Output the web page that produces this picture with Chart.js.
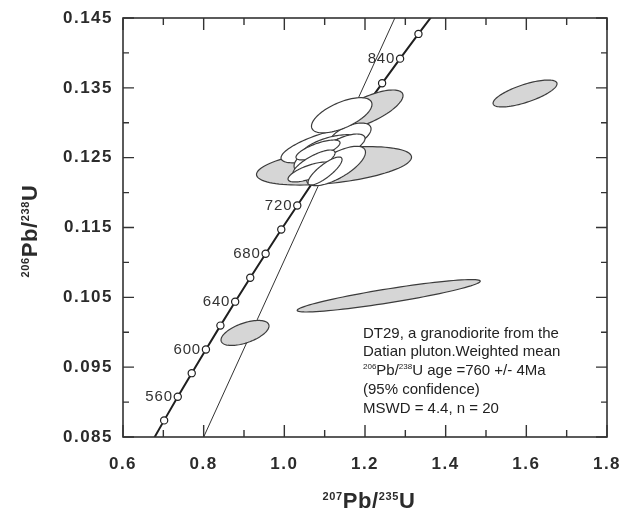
<!DOCTYPE html>
<html>
<head>
<meta charset="utf-8">
<script src="https://cdn.jsdelivr.net/npm/chart.js@4.4.1/dist/chart.umd.min.js"></script>
<style>
  html, body { margin: 0; padding: 0; background: #fff; }
</style>
</head>
<body>
<canvas id="chart" width="628" height="510"></canvas>
<script>
// Concordia curve (207Pb/235U, 206Pb/238U) at 20 Ma steps.
const concAge = [520, 540, 560, 580, 600, 620, 640, 660, 680, 700, 720, 740, 760, 780, 800, 820, 840, 860, 880];
const concX = [0.6688, 0.7020, 0.7358, 0.7704, 0.8056, 0.8415, 0.8781, 0.9155, 0.9536, 0.9924,
  1.0321, 1.0725, 1.1137, 1.1558, 1.1987, 1.2424, 1.2870, 1.3325, 1.3789];
const concY = [0.08401, 0.08738, 0.09076, 0.09414, 0.09754, 0.10095, 0.10438, 0.10781, 0.11125, 0.11471,
  0.11816, 0.12164, 0.12512, 0.12862, 0.13213, 0.13565, 0.13918, 0.14272, 0.14627];
const labelAges = [560, 600, 640, 680, 720, 840];

// Thin reference line.
const refX = [0.80, 1.274];
const refY = [0.085, 0.145];

// Error ellipses: centre, half extents, correlation, grey or white. Drawn in this order.
const ellCx  = [0.9025, 1.2588, 1.5968, 1.1232, 1.2050, 1.1009, 1.1629, 1.1157, 1.1207, 1.0910, 1.1505, 1.0835, 1.1282, 1.0736, 1.0637, 1.1009, 1.1423];
const ellCy  = [0.0999, 0.10522, 0.13419, 0.12383, 0.13183, 0.12681, 0.1281, 0.12624, 0.12610, 0.12495, 0.12681, 0.1261, 0.12381, 0.12424, 0.12295, 0.12309, 0.13107];
const ellEx  = [0.0595, 0.2269, 0.0793, 0.1922, 0.0893, 0.1091, 0.0521, 0.0769, 0.0446, 0.0669, 0.0496, 0.0546, 0.0730, 0.0521, 0.0546, 0.0422, 0.0750];
const ellEy  = [0.00179, 0.00232, 0.00193, 0.00275, 0.00286, 0.00255, 0.00186, 0.00205, 0.00172, 0.00220, 0.00158, 0.00143, 0.00282, 0.00186, 0.00143, 0.00200, 0.00252];
const ellRho = [0.56, 0.90, 0.72, 0.45, 0.72, 0.72, 0.55, 0.52, 0.65, 0.52, 0.60, 0.72, 0.70, 0.78, 0.70, 0.82, 0.62];
const ellGrey = [true, true, true, true, true, false, false, false, false, false, false, false, false, false, false, false, false];

const xTicks = [0.6, 0.8, 1.0, 1.2, 1.4, 1.6, 1.8];
const xMinor = [0.7, 0.9, 1.1, 1.3, 1.5, 1.7];
const yTicks = [0.085, 0.095, 0.105, 0.115, 0.125, 0.135, 0.145];
const yMinor = [0.09, 0.10, 0.11, 0.12, 0.13, 0.14];

const FONT = '"Liberation Sans", Arial, sans-serif';
const INK = '#2b2b2b';

// Draw a run of text pieces [{t, size, bold, dy}] starting at x (baseline y).
function drawRuns(ctx, runs, x, y, align) {
  let total = 0;
  for (const r of runs) {
    ctx.font = (r.bold ? 'bold ' : '') + r.size + 'px ' + FONT;
    r.w = ctx.measureText(r.t).width;
    total += r.w;
  }
  let cx = align === 'center' ? x - total / 2 : x;
  ctx.textAlign = 'left';
  ctx.textBaseline = 'alphabetic';
  for (const r of runs) {
    ctx.font = (r.bold ? 'bold ' : '') + r.size + 'px ' + FONT;
    ctx.fillText(r.t, cx, y + (r.dy || 0));
    cx += r.w;
  }
}

const ellipsePlugin = {
  id: 'ellipses',
  afterDatasetsDraw(chart) {
    const { ctx, chartArea, scales: { x: xs, y: ys } } = chart;
    ctx.save();
    ctx.beginPath();
    ctx.rect(chartArea.left, chartArea.top, chartArea.right - chartArea.left, chartArea.bottom - chartArea.top);
    ctx.clip();
    for (let i = 0; i < ellCx.length; i++) {
      const s = Math.sqrt(1 - ellRho[i] * ellRho[i]);
      ctx.beginPath();
      for (let k = 0; k <= 96; k++) {
        const t = (k / 96) * Math.PI * 2;
        const vx = ellCx[i] + ellEx[i] * Math.cos(t);
        const vy = ellCy[i] + ellEy[i] * (ellRho[i] * Math.cos(t) + s * Math.sin(t));
        const px = xs.getPixelForValue(vx);
        const py = ys.getPixelForValue(vy);
        if (k === 0) ctx.moveTo(px, py); else ctx.lineTo(px, py);
      }
      ctx.closePath();
      ctx.fillStyle = ellGrey[i] ? '#d6d6d6' : '#ffffff';
      ctx.fill();
      ctx.strokeStyle = '#3c3c3c';
      ctx.lineWidth = 1.2;
      ctx.stroke();
    }
    ctx.restore();
  },
};

const framePlugin = {
  id: 'frame',
  beforeDraw(chart) {
    chart.ctx.letterSpacing = '1.5px';
  },
  afterDraw(chart) {
    const { ctx, chartArea: a, scales: { x: xs, y: ys } } = chart;
    ctx.save();
    ctx.letterSpacing = '0px';

    // Frame and inward ticks.
    ctx.strokeStyle = '#333';
    ctx.lineWidth = 1.6;
    ctx.strokeRect(a.left, a.top, a.right - a.left, a.bottom - a.top);
    ctx.lineWidth = 1.4;
    ctx.beginPath();
    const tickX = (v, len) => {
      const p = xs.getPixelForValue(v);
      ctx.moveTo(p, a.bottom); ctx.lineTo(p, a.bottom - len);
      ctx.moveTo(p, a.top); ctx.lineTo(p, a.top + len);
    };
    const tickY = (v, len) => {
      const p = ys.getPixelForValue(v);
      ctx.moveTo(a.left, p); ctx.lineTo(a.left + len, p);
      ctx.moveTo(a.right, p); ctx.lineTo(a.right - len, p);
    };
    xTicks.forEach((v) => tickX(v, 12));
    xMinor.forEach((v) => tickX(v, 7));
    yTicks.forEach((v) => tickY(v, 11));
    yMinor.forEach((v) => tickY(v, 6));
    ctx.stroke();

    // Age labels on the concordia.
    ctx.fillStyle = '#333';
    ctx.font = '15px ' + FONT;
    ctx.letterSpacing = '0.8px';
    ctx.textAlign = 'right';
    ctx.textBaseline = 'middle';
    for (const age of labelAges) {
      const i = concAge.indexOf(age);
      const px = xs.getPixelForValue(concX[i]);
      const py = ys.getPixelForValue(concY[i]);
      ctx.fillText(String(age), px - 5, py);
    }

    // Axis titles.
    ctx.letterSpacing = '0.6px';
    ctx.fillStyle = INK;
    drawRuns(ctx, [
      { t: '207', size: 11, bold: true, dy: -8 },
      { t: 'Pb/', size: 22, bold: true },
      { t: '235', size: 11, bold: true, dy: -8 },
      { t: 'U', size: 22, bold: true },
    ], (a.left + a.right) / 2 + 4, 508, 'center');

    ctx.save();
    ctx.translate(37, 231);
    ctx.rotate(-Math.PI / 2);
    drawRuns(ctx, [
      { t: '206', size: 11, bold: true, dy: -8 },
      { t: 'Pb/', size: 22, bold: true },
      { t: '238', size: 11, bold: true, dy: -8 },
      { t: 'U', size: 22, bold: true },
    ], 0, 0, 'center');
    ctx.restore();

    // Annotation.
    ctx.letterSpacing = '0px';
    ctx.fillStyle = '#222';
    const nx = 363, ny = 337.5, lh = 18.9;
    drawRuns(ctx, [{ t: 'DT29, a granodiorite from the', size: 15 }], nx, ny);
    drawRuns(ctx, [{ t: 'Datian pluton.Weighted mean', size: 15 }], nx, ny + lh);
    drawRuns(ctx, [
      { t: '206', size: 8, dy: -6 },
      { t: 'Pb/', size: 15 },
      { t: '238', size: 8, dy: -6 },
      { t: 'U age =760 +/- 4Ma', size: 15 },
    ], nx, ny + lh * 2);
    drawRuns(ctx, [{ t: '(95% confidence)', size: 15 }], nx, ny + lh * 3);
    drawRuns(ctx, [{ t: 'MSWD = 4.4, n = 20', size: 15 }], nx, ny + lh * 4);
    ctx.restore();
  },
};

const tickFont = { family: FONT, size: 17, weight: 'bold' };

new Chart(document.getElementById('chart'), {
  type: 'scatter',
  data: {
    datasets: [
      {
        label: 'Reference',
        data: refX.map((x, i) => ({ x, y: refY[i] })),
        showLine: true,
        borderColor: '#333',
        borderWidth: 1,
        pointRadius: 0,
        clip: 0,
      },
      {
        label: 'Concordia',
        data: concX.map((x, i) => ({ x, y: concY[i] })),
        showLine: true,
        borderColor: '#1f1f1f',
        borderWidth: 2,
        pointRadius: (c) => (concAge[c.dataIndex] < 540 || concAge[c.dataIndex] > 860 ? 0 : 3.6),
        pointBackgroundColor: '#fff',
        pointBorderColor: '#1f1f1f',
        pointBorderWidth: 1.2,
        clip: 0,
      },
    ],
  },
  options: {
    responsive: false,
    animation: false,
    devicePixelRatio: 1,
    layout: { padding: { top: 18, right: 21, left: 0, bottom: 0 } },
    plugins: { legend: { display: false }, tooltip: { enabled: false } },
    scales: {
      x: {
        type: 'linear',
        min: 0.6,
        max: 1.8,
        afterBuildTicks: (s) => { s.ticks = xTicks.map((v) => ({ value: v })); },
        afterFit: (s) => { s.height = 73; s.paddingLeft = 0; s.paddingRight = 0; },
        ticks: { font: tickFont, color: INK, padding: 17, callback: (v) => Number(v).toFixed(1) },
        grid: { display: false, drawTicks: false },
        border: { display: false },
      },
      y: {
        type: 'linear',
        min: 0.085,
        max: 0.145,
        afterBuildTicks: (s) => { s.ticks = yTicks.map((v) => ({ value: v })); },
        afterFit: (s) => { s.width = 123; s.paddingTop = 0; s.paddingBottom = 0; },
        ticks: { font: tickFont, color: INK, padding: 10, callback: (v) => Number(v).toFixed(3) },
        grid: { display: false, drawTicks: false },
        border: { display: false },
      },
    },
  },
  plugins: [ellipsePlugin, framePlugin],
});
</script>
</body>
</html>
